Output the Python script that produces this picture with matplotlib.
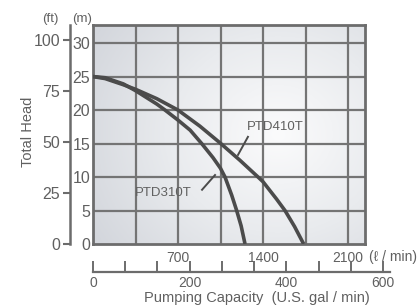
import numpy as np
import matplotlib
matplotlib.use('Agg')
import matplotlib.pyplot as plt
from matplotlib.colors import LinearSegmentedColormap

plt.rcParams['font.family'] = ['Liberation Sans', 'DejaVu Sans']

# flow (l/min) vs total head (m)
ptd310t_flow = [0, 100, 250, 350, 525, 593, 700, 800, 895, 988, 1050, 1087, 1142, 1183, 1220, 1252]
ptd310t_head = [25, 24.83, 23.9, 22.9, 20.9, 20.0, 18.5, 17.0, 15.0, 12.9, 11.3, 10.0, 7.3, 5.0, 2.7, 0]
ptd410t_flow = [0, 100, 247, 350, 525, 700, 880, 1046, 1210, 1359, 1400, 1512, 1581, 1660, 1735]
ptd410t_head = [25, 24.7, 23.8, 23.1, 21.7, 20.0, 17.6, 15.1, 12.5, 10.0, 9.3, 6.7, 5.0, 2.6, 0]

m_ticks = [0, 5, 10, 15, 20, 25, 30]
ft_ticks = [0, 25, 50, 75, 100]
lpm_grid = [350, 700, 1050, 1400, 1750, 2100]
lpm_labels = [700, 1400, 2100]
gpm_ticks = [0, 66.7, 133.3, 200, 266.7, 333.3, 400, 466.7, 533.3, 600]
gpm_labels = ['0', '', '', '200', '', '', '400', '', '', '600']

txt = '#606060'
line_c = '#4b4b4b'
grid_c = '#747474'

W, H = 419, 307
fig = plt.figure(figsize=(W / 100, H / 100), dpi=100)

# main chart (metres / litres per minute)
left, right, top, bottom = 93, 365, 25, 244
ax = fig.add_axes([left / W, 1 - bottom / H, (right - left) / W, (bottom - top) / H])
xmax, ymax = 2240, 32.7
ax.set_xlim(0, xmax)
ax.set_ylim(0, ymax)

# soft grey background gradient
gx, gy = np.meshgrid(np.linspace(0, 1, 200), np.linspace(0, 1, 200))
d = np.sqrt(((gx - 0.68) / 0.8) ** 2 + ((gy - 0.5) / 0.9) ** 2)
cmap = LinearSegmentedColormap.from_list('bg', ['#fbfbfc', '#e9ebee', '#d3d6dc'])
ax.imshow(np.clip(d, 0, 1), extent=[0, xmax, 0, ymax], aspect='auto',
          cmap=cmap, origin='lower', zorder=0, vmin=0, vmax=1)

for v in lpm_grid:
    ax.axvline(v, color=grid_c, lw=1.6, zorder=1)
for v in m_ticks[1:]:
    ax.axhline(v, color=grid_c, lw=1.6, zorder=1)
for s in ax.spines.values():
    s.set_color('#6c6c6c')
    s.set_linewidth(2)

ax.plot(ptd310t_flow, ptd310t_head, color=line_c, lw=2.6, zorder=3,
        solid_joinstyle='round', solid_capstyle='butt')
ax.plot(ptd410t_flow, ptd410t_head, color=line_c, lw=2.6, zorder=3,
        solid_joinstyle='round', solid_capstyle='butt')

ax.text(1500, 17.4, 'PTD410T', color=txt, fontsize=9.5, ha='center', va='center', zorder=4)
ax.plot([1276, 1194], [16.0, 13.3], color=line_c, lw=1.4, zorder=4)
ax.text(576, 7.6, 'PTD310T', color=txt, fontsize=9.5, ha='center', va='center', zorder=4)
ax.plot([898, 1005], [8.1, 10.3], color=line_c, lw=1.4, zorder=4)

ax.set_yticks(m_ticks)
ax.tick_params(axis='y', length=0, pad=2, labelsize=11.5, labelcolor=txt)
ax.set_xticks(lpm_labels)
ax.tick_params(axis='x', length=0, pad=5, labelsize=10, labelcolor=txt)
fig.text(369 / W, 1 - 257 / H, '(\u2113 / min)', color=txt, fontsize=10, ha='left', va='center')

# feet scale on the left
axf = fig.add_axes([70 / W, 1 - bottom / H, 0.0001, (bottom - top) / H])
axf.set_ylim(0, ymax * 3.2808)
axf.patch.set_visible(False)
for k in ['top', 'right', 'bottom']:
    axf.spines[k].set_visible(False)
axf.spines['left'].set_color('#6c6c6c')
axf.spines['left'].set_linewidth(1.8)
axf.set_xticks([])
axf.set_yticks(ft_ticks)
axf.tick_params(axis='y', direction='out', length=5, width=1.5, color='#6c6c6c',
                pad=2, labelsize=11.5, labelcolor=txt)

# US gallons scale at the bottom
axg = fig.add_axes([93 / W, 1 - 272 / H, 297 / W, 0.0001])
axg.set_xlim(0, 614.5)
axg.patch.set_visible(False)
for k in ['top', 'right', 'left']:
    axg.spines[k].set_visible(False)
axg.spines['bottom'].set_color('#6c6c6c')
axg.spines['bottom'].set_linewidth(1.6)
axg.set_yticks([])
axg.set_xticks(gpm_ticks)
axg.set_xticklabels(gpm_labels)
axg.tick_params(axis='x', direction='in', length=8, width=1.4, color='#6c6c6c',
                pad=3, labelsize=10, labelcolor=txt)

fig.text(257 / W, 1 - 298 / H, 'Pumping Capacity  (U.S. gal / min)', color=txt,
         fontsize=10.5, ha='center', va='center')
fig.text(50 / W, 1 - 19 / H, '(ft)', color=txt, fontsize=9.5, ha='center', va='center')
fig.text(82 / W, 1 - 19 / H, '(m)', color=txt, fontsize=9.5, ha='center', va='center')
fig.text(28 / W, 1 - 132 / H, 'Total Head', color=txt, fontsize=10.5, rotation=90,
         ha='center', va='center')

fig.savefig('out.png', dpi=100)
